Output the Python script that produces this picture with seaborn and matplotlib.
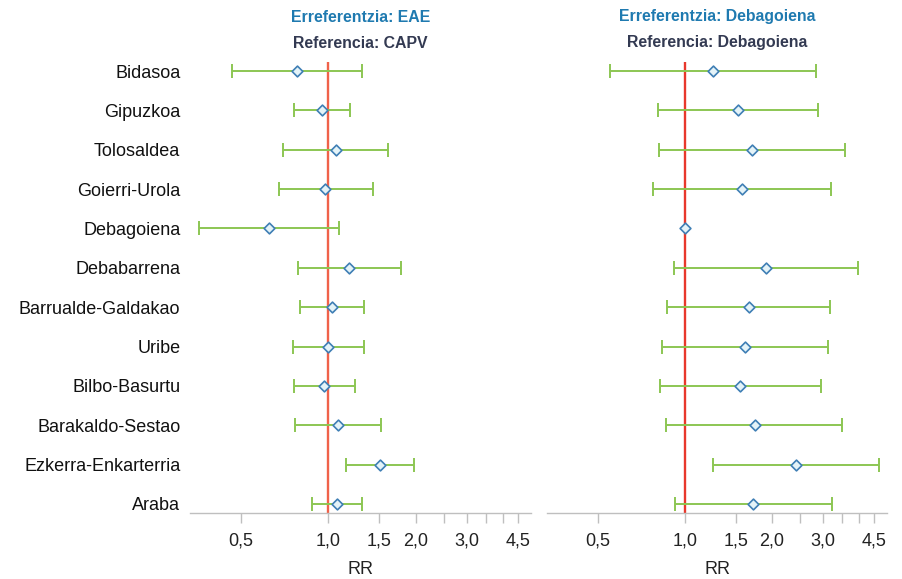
import numpy as np
import pandas as pd
import matplotlib
matplotlib.use("Agg")
import matplotlib.pyplot as plt
import seaborn as sns

# Eskualdeak (regions), top to bottom
regions = ["Bidasoa", "Gipuzkoa", "Tolosaldea", "Goierri-Urola", "Debagoiena",
           "Debabarrena", "Barrualde-Galdakao", "Uribe", "Bilbo-Basurtu",
           "Barakaldo-Sestao", "Ezkerra-Enkarterria", "Araba"]

# Reference: EAE / CAPV
eae_rr = [0.78, 0.95, 1.06, 0.97, 0.625, 1.18, 1.03, 1.00, 0.966, 1.08, 1.51, 1.07]
eae_lo = [0.464, 0.759, 0.699, 0.677, 0.358, 0.787, 0.80, 0.757, 0.761, 0.767, 1.15, 0.88]
eae_hi = [1.31, 1.19, 1.61, 1.42, 1.09, 1.78, 1.33, 1.33, 1.24, 1.52, 1.98, 1.31]

# Reference: Debagoiena
deba_rr = [1.25, 1.52, 1.70, 1.57, 1.00, 1.90, 1.66, 1.61, 1.55, 1.74, 2.42, 1.72]
deba_lo = [0.552, 0.808, 0.811, 0.772, np.nan, 0.914, 0.866, 0.830, 0.819, 0.862, 1.25, 0.921]
deba_hi = [2.84, 2.88, 3.58, 3.21, np.nan, 3.96, 3.17, 3.12, 2.96, 3.49, 4.69, 3.22]

tick_vals = [0.5, 1.0, 1.5, 2.0, 2.5, 3.0, 3.5, 4.0, 4.5]
tick_labels = ["0,5", "1,0", "1,5", "2,0", "", "3,0", "", "", "4,5"]

panels = [
    ("Erreferentzia: EAE", "Referencia: CAPV", eae_rr, eae_lo, eae_hi, "#f0624a"),
    ("Erreferentzia: Debagoiena", "Referencia: Debagoiena", deba_rr, deba_lo, deba_hi, "#e8382c"),
]

sns.set_theme(style="white")
plt.rcParams["font.family"] = ["Liberation Sans", "DejaVu Sans"]

fig = plt.figure(figsize=(9.02, 5.79), dpi=100)
ax_pos = [[190 / 902, 1 - 513 / 579, 341 / 902, 451 / 579],
          [547 / 902, 1 - 513 / 579, 340 / 902, 451 / 579]]

ypos = np.arange(len(regions))
for i, (t1, t2, rr, lo, hi, refcol) in enumerate(panels):
    ax = fig.add_axes(ax_pos[i])
    df = pd.DataFrame({"region": regions, "y": ypos, "rr": rr, "lo": lo, "hi": hi})
    ax.set_xscale("log")
    ax.axvline(1.0, color=refcol, lw=1.7, zorder=2)
    ci = df.dropna()
    ax.errorbar(ci["rr"], ci["y"], xerr=[ci["rr"] - ci["lo"], ci["hi"] - ci["rr"]],
                fmt="none", ecolor="#8cc653", elinewidth=1.4, capsize=5,
                capthick=1.4, zorder=3)
    sns.scatterplot(data=df, x="rr", y="y", ax=ax, marker="D", s=30,
                    color="#e4f3f8", edgecolor="#3f7fb5", linewidth=1.2,
                    zorder=4, legend=False)
    ax.set_xlim(0.333, 5.0)
    ax.set_ylim(len(regions) - 1 + 0.23, -0.23)
    ax.set_xticks(tick_vals)
    ax.set_xticklabels(tick_labels, fontsize=13, color="#222222")
    ax.xaxis.set_minor_locator(matplotlib.ticker.NullLocator())
    ax.tick_params(axis="x", bottom=True, length=7, width=1, color="#bfbfbf", pad=7)
    ax.set_xlabel("RR", fontsize=13, color="#222222", labelpad=8)
    ax.set_ylabel("")
    if i == 0:
        ax.set_yticks(ypos)
        ax.set_yticklabels(regions, fontsize=13, color="#111111")
        ax.tick_params(axis="y", left=False, length=0, pad=7)
    else:
        ax.set_yticks([])
    for s in ["top", "right", "left"]:
        ax.spines[s].set_visible(False)
    ax.spines["bottom"].set_color("#bfbfbf")
    ax.spines["bottom"].set_linewidth(1)
    ax.text(0.5, 1 + 45 / 451, t1, transform=ax.transAxes, ha="center", va="center",
            fontsize=11.4, fontweight="bold", color="#1f7ab0")
    ax.text(0.5, 1 + 19 / 451, t2, transform=ax.transAxes, ha="center", va="center",
            fontsize=11.4, fontweight="bold", color="#333a52")

fig.savefig("out.png", dpi=100)
